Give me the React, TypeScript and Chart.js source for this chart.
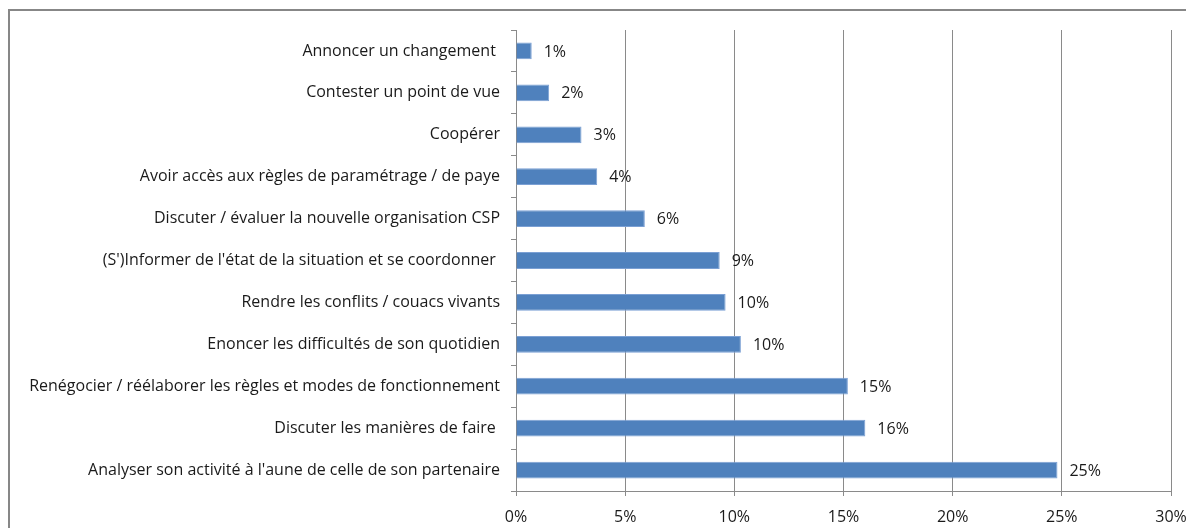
import React, { useEffect, useRef } from "react";
import { Chart, registerables } from "chart.js";

Chart.register(...registerables);

const categories = [
  "Annoncer un changement ",
  "Contester un point de vue",
  "Coopérer",
  "Avoir accès aux règles de paramétrage / de paye",
  "Discuter / évaluer la nouvelle organisation CSP",
  "(S')Informer de l'état de la situation et se coordonner ",
  "Rendre les conflits / couacs vivants",
  "Enoncer les difficultés de son quotidien",
  "Renégocier / réélaborer les règles et modes de fonctionnement",
  "Discuter les manières de faire ",
  "Analyser son activité à l'aune de celle de son partenaire",
];

const values = [0.72, 1.52, 3.0, 3.72, 5.9, 9.33, 9.6, 10.3, 15.2, 16.0, 24.8];

const xTicks = [0, 5, 10, 15, 20, 25, 30];

const FONT = "'Open Sans', sans-serif";
const FSIZE = 16;

const framePlugin = {
  id: "frame",
  beforeDraw(chart: any) {
    const ctx = chart.ctx;
    ctx.save();
    ctx.strokeStyle = "#878787";
    ctx.lineWidth = 2;
    ctx.beginPath();
    ctx.moveTo(1, chart.height);
    ctx.lineTo(1, 2);
    ctx.lineTo(chart.width, 2);
    ctx.stroke();
    ctx.restore();
  },
};

const valueLabelPlugin = {
  id: "valueLabels",
  afterDatasetsDraw(chart: any) {
    const ctx = chart.ctx;
    const meta = chart.getDatasetMeta(0);
    ctx.save();
    ctx.font = `${FSIZE}px ${FONT}`;
    ctx.fillStyle = "#1a1a1a";
    ctx.textAlign = "left";
    ctx.textBaseline = "middle";
    meta.data.forEach((el: any, i: number) => {
      const v = values[i];
      ctx.fillText(Math.round(v) + "%", el.x + 12, el.y + 1);
    });
    ctx.restore();
  },
};

export default function App() {
  const ref = useRef<HTMLCanvasElement | null>(null);
  useEffect(() => {
    if (!ref.current) return;
    const chart = new Chart(ref.current, {
      type: "bar",
      data: {
        labels: categories,
        datasets: [
          {
            data: values,
            backgroundColor: "#4F81BD",
            borderColor: "#7ba0d4",
            borderWidth: 1,
            barPercentage: 0.4,
            categoryPercentage: 1.0,
          },
        ],
      },
      options: {
        indexAxis: "y",
        animation: false,
        responsive: false,
        layout: { padding: { top: 22, right: 23, left: 0, bottom: 0 } },
        plugins: {
          legend: { display: false },
          tooltip: { enabled: false },
        },
        scales: {
          x: {
            min: 0,
            max: 30,
            afterBuildTicks: (scale: any) => {
              scale.ticks = xTicks.map((v) => ({ value: v }));
            },
            afterFit: (scale: any) => {
              scale.height = 37;
              scale.paddingRight = 0;
              scale.paddingLeft = 0;
            },
            ticks: {
              stepSize: 5,
              callback: (v: any) => v + "%",
              font: { family: FONT, size: FSIZE },
              color: "#1a1a1a",
              padding: 12,
            },
            grid: {
              color: "#8a8a8a",
              lineWidth: 1,
              tickLength: 5,
              drawTicks: true,
            },
            border: { color: "#8a8a8a", width: 1 },
          },
          y: {
            afterFit: (scale: any) => {
              scale.width = 508;
              scale.paddingTop = 0;
              scale.paddingBottom = 0;
            },
            ticks: {
              font: { family: FONT, size: FSIZE },
              color: "#1a1a1a",
              padding: 11,
              autoSkip: false,
            },
            grid: {
              drawOnChartArea: false,
              drawTicks: true,
              tickLength: 5,
              color: "#8a8a8a",
              offset: true,
            },
            border: { color: "#8a8a8a", width: 1 },
          },
        },
      },
      plugins: [framePlugin, valueLabelPlugin],
    });
    return () => chart.destroy();
  }, []);
  return (
    <div style={{ width: 1186, height: 520, overflow: "hidden" }}>
      <canvas ref={ref} width={1186} height={520} />
    </div>
  );
}
